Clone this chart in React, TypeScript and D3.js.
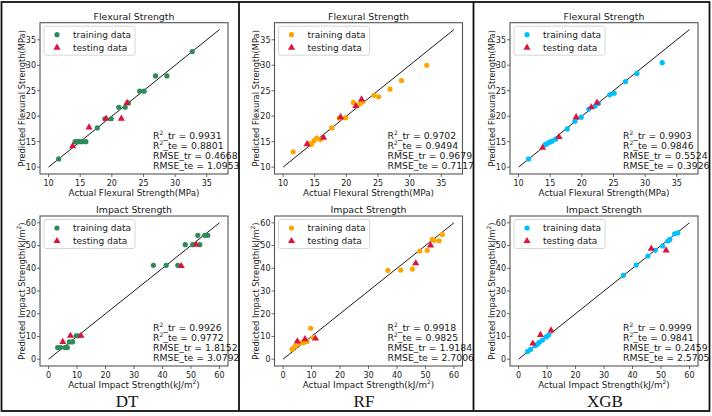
import React from 'react';
import * as d3 from 'd3';

// model names + training marker colours
const models = ['DT', 'RF', 'XGB'];
const trainColors = ['#2e8b57', '#ffa500', '#00bfff'];
const testColor = '#dc143c';

// flexural strength (MPa)
const flexTrainActual = [11.6, 14.2, 14.5, 14.9, 15.3, 15.9, 17.7, 18.9, 19.9, 21.1, 22.1, 22.6, 24.4, 25.1, 26.9, 28.7, 32.7];
const flexTrainDT = [11.6, 15.0, 15.0, 15.0, 15.0, 15.0, 17.7, 19.5, 19.5, 21.75, 21.75, 22.6, 24.9, 24.9, 27.9, 27.9, 32.7];
const flexTrainRF = [13.0, 14.6, 14.5, 15.2, 15.7, 15.4, 17.7, 19.6, 19.7, 22.7, 22.4, 22.8, 24.1, 23.8, 25.3, 27.0, 30.0];
const flexTrainXGB = [11.6, 14.4, 14.6, 14.9, 15.1, 15.5, 17.5, 19.0, 19.8, 21.4, 22.0, 22.5, 24.2, 24.5, 26.8, 28.4, 30.5];
const flexTestActual = [13.8, 16.4, 19.1, 21.5, 22.4];
const flexTestDT = [14.1, 17.8, 19.5, 19.5, 22.6];
const flexTestRF = [14.5, 15.8, 19.8, 22.0, 23.3];
const flexTestXGB = [13.8, 15.9, 19.8, 21.75, 22.65];

// impact strength (kJ/m2)
const impTrainActual = [3.2, 4.2, 5.8, 6.6, 7.3, 8.4, 9.7, 10.6, 36.8, 41.3, 45.4, 48.0, 50.6, 52.4, 53.1, 54.8, 55.9];
const impTrainDT = [5.1, 5.1, 5.1, 5.1, 7.6, 7.6, 10.3, 10.3, 41.3, 41.3, 41.3, 50.4, 50.4, 54.5, 50.4, 54.5, 54.5];
const impTrainRF = [4.4, 5.6, 6.9, 7.3, 7.3, 7.8, 13.6, 9.5, 39.1, 39.2, 39.7, 47.6, 47.9, 52.7, 52.3, 52.1, 54.9];
const impTrainXGB = [3.4, 4.3, 5.9, 6.6, 7.4, 8.4, 9.8, 10.6, 36.9, 41.4, 45.4, 47.9, 49.8, 52.0, 52.7, 55.2, 55.6];
const impTestActual = [5.0, 7.7, 11.4, 46.6, 51.8];
const impTestDT = [7.6, 10.3, 10.3, 41.0, 50.4];
const impTestRF = [7.8, 8.8, 9.1, 42.2, 50.1];
const impTestXGB = [6.9, 10.7, 12.7, 48.6, 47.9];

// metrics text
const flexStats = [
  ['0.9931', '0.8801', '0.4668', '1.0953'],
  ['0.9702', '0.9494', '0.9679', '0.7117'],
  ['0.9903', '0.9846', '0.5524', '0.3926'],
];
const impStats = [
  ['0.9926', '0.9772', '1.8152', '3.0792'],
  ['0.9918', '0.9825', '1.9184', '2.7006'],
  ['0.9999', '0.9841', '0.2459', '2.5705'],
];

const flexTicks = [10, 15, 20, 25, 30, 35];
const impTicks = [0, 10, 20, 30, 40, 50, 60];

const FONT = 'DejaVu Sans, sans-serif';
const colX = [0, 234.5, 470];
const modelLabelX = [127, 364, 605];
const PW = 188;

type PanelProps = {
  x0: number;
  y0: number;
  h: number;
  title: string;
  ticks: number[];
  line: [number, number];
  trainX: number[];
  trainY: number[];
  testX: number[];
  testY: number[];
  color: string;
  stats: string[];
  xLabel: React.ReactNode;
  yLabel: React.ReactNode;
};

const Panel: React.FC<PanelProps> = (p) => {
  const pad = (p.line[1] - p.line[0]) * 0.05;
  const dom: [number, number] = [p.line[0] - pad, p.line[1] + pad];
  const x = d3.scaleLinear().domain(dom).range([p.x0, p.x0 + PW]);
  const y = d3.scaleLinear().domain(dom).range([p.y0 + p.h, p.y0]);
  const tri = d3.symbol(d3.symbolTriangle, 22)()!;
  const statLabels = ['tr', 'te', 'tr', 'te'];
  return (
    <g fontFamily={FONT} fill="#1a1a1a">
      <rect x={p.x0} y={p.y0} width={PW} height={p.h} fill="white" stroke="#555" strokeWidth={1.1} />
      <text x={p.x0 + PW / 2} y={p.y0 - 3} textAnchor="middle" fontSize={9.4}>{p.title}</text>
      {p.ticks.map((t) => (
        <g key={'x' + t}>
          <line x1={x(t)} x2={x(t)} y1={p.y0 + p.h} y2={p.y0 + p.h + 3} stroke="#444" strokeWidth={0.8} />
          <text x={x(t)} y={p.y0 + p.h + 11.5} textAnchor="middle" fontSize={8}>{t}</text>
        </g>
      ))}
      {p.ticks.map((t) => (
        <g key={'y' + t}>
          <line x1={p.x0 - 3} x2={p.x0} y1={y(t)} y2={y(t)} stroke="#444" strokeWidth={0.8} />
          <text x={p.x0 - 4} y={y(t) + 2.9} textAnchor="end" fontSize={8}>{t}</text>
        </g>
      ))}
      <text x={p.x0 + PW / 2} y={p.y0 + p.h + 22} textAnchor="middle" fontSize={8.8}>{p.xLabel}</text>
      <text
        transform={`translate(${p.x0 - 15.5},${p.y0 + p.h / 2}) rotate(-90)`}
        textAnchor="middle"
        fontSize={8.3}
      >{p.yLabel}</text>
      <line x1={x(p.line[0])} y1={y(p.line[0])} x2={x(p.line[1])} y2={y(p.line[1])} stroke="black" strokeWidth={0.9} />
      {p.trainX.map((v, i) => (
        <circle key={'tr' + i} cx={x(v)} cy={y(p.trainY[i])} r={2.6} fill={p.color} />
      ))}
      {p.testX.map((v, i) => (
        <path key={'te' + i} d={tri} transform={`translate(${x(v)},${y(p.testY[i])})`} fill={testColor} />
      ))}
      {/* legend */}
      <rect x={p.x0 + 4} y={p.y0 + 3.5} width={91} height={29} rx={2} fill="white" fillOpacity={0.8} stroke="#ccc" strokeWidth={0.8} />
      <circle cx={p.x0 + 17} cy={p.y0 + 12} r={2.6} fill={p.color} />
      <text x={p.x0 + 33} y={p.y0 + 15.2} fontSize={9}>training data</text>
      <path d={tri} transform={`translate(${p.x0 + 17},${p.y0 + 25})`} fill={testColor} />
      <text x={p.x0 + 33} y={p.y0 + 28.2} fontSize={9}>testing data</text>
      {/* metrics */}
      {p.stats.map((s, i) => (
        <text key={'s' + i} x={p.x0 + 113} y={p.y0 + p.h - 35.5 + i * 10} fontSize={9.3}>
          {i < 2 ? (
            <>R<tspan fontSize={6} dy={-3.8}>2</tspan><tspan dy={3.8}>_{statLabels[i]} = {s}</tspan></>
          ) : (
            <>RMSE_{statLabels[i]} = {s}</>
          )}
        </text>
      ))}
    </g>
  );
};

const sq = (pre: string) => (
  <>{pre}<tspan fontSize={6} dy={-3.8}>2</tspan><tspan dy={3.8}>)</tspan></>
);

export default function App() {
  const flexTrainPred = [flexTrainDT, flexTrainRF, flexTrainXGB];
  const flexTestPred = [flexTestDT, flexTestRF, flexTestXGB];
  const impTrainPred = [impTrainDT, impTrainRF, impTrainXGB];
  const impTestPred = [impTestDT, impTestRF, impTestXGB];
  return (
    <div style={{ position: 'fixed', left: 0, top: 0 }}>
      <svg width={712} height={416} style={{ display: 'block' }}>
        <rect x={0} y={0} width={712} height={416} fill="white" />
        {models.map((m, i) => (
          <g key={m}>
            <Panel
              x0={40 + colX[i]} y0={22.7} h={151.3}
              title="Flexural Strength" ticks={flexTicks} line={[10, 37]}
              trainX={flexTrainActual} trainY={flexTrainPred[i]}
              testX={flexTestActual} testY={flexTestPred[i]}
              color={trainColors[i]} stats={flexStats[i]}
              xLabel="Actual Flexural Strength(MPa)"
              yLabel="Predicted Flexural Strength(MPa)"
            />
            <Panel
              x0={40 + colX[i]} y0={216} h={150}
              title="Impact Strength" ticks={impTicks} line={[0, 60]}
              trainX={impTrainActual} trainY={impTrainPred[i]}
              testX={impTestActual} testY={impTestPred[i]}
              color={trainColors[i]} stats={impStats[i]}
              xLabel={sq('Actual Impact Strength(kJ/m')}
              yLabel={sq('Predicted Impact Strength(kJ/m')}
            />
            <text x={modelLabelX[i]} y={407} textAnchor="middle" fontFamily="Liberation Serif, serif" fontSize={17} fill="#111">{m}</text>
          </g>
        ))}
        {/* table frame */}
        <rect x={1.5} y={2} width={708} height={409} fill="none" stroke="#111" strokeWidth={1.8} />
        <line x1={239} x2={239} y1={2} y2={411} stroke="#111" strokeWidth={1.8} />
        <line x1={473.5} x2={473.5} y1={2} y2={411} stroke="#111" strokeWidth={1.8} />
      </svg>
    </div>
  );
}
